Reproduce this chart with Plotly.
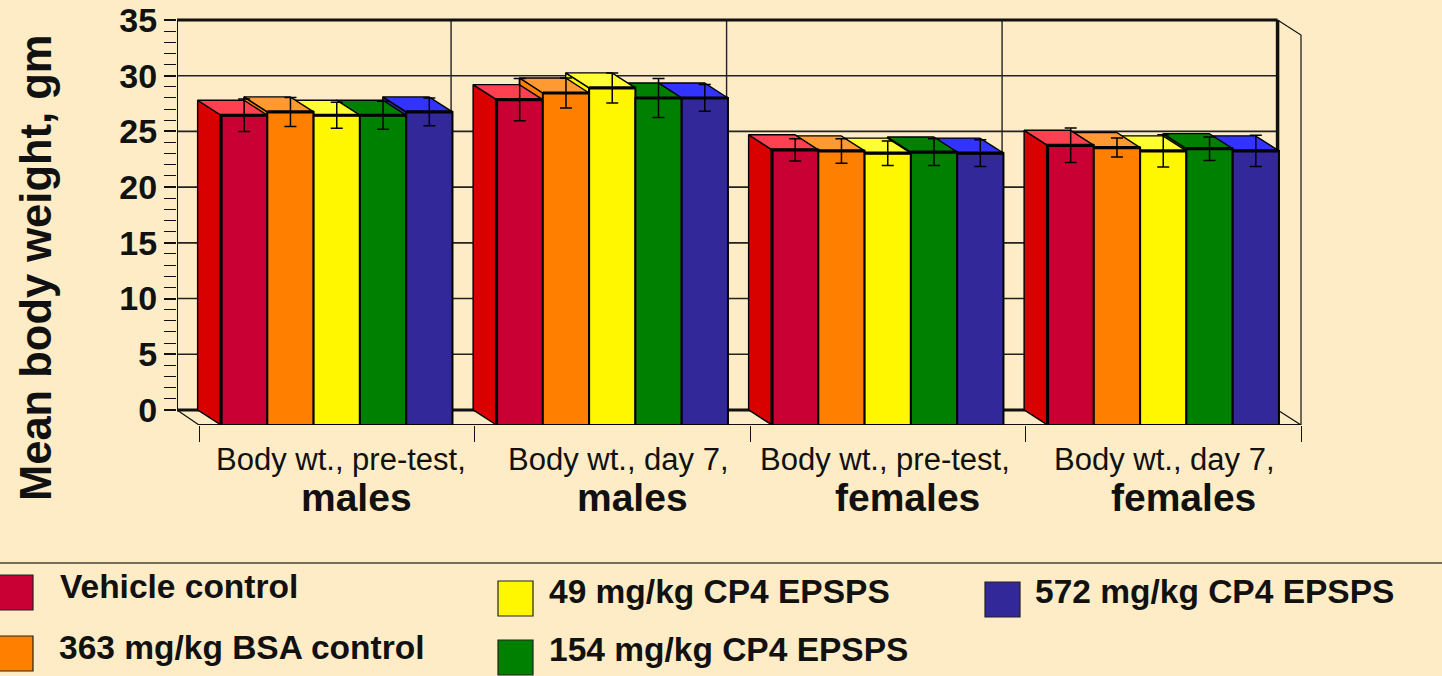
import plotly.graph_objects as go

W, H = 1442, 676

group_line1 = ["Body wt., pre-test,", "Body wt., day 7,", "Body wt., pre-test,", "Body wt., day 7,"]
group_line2 = ["males", "males", "females", "females"]
group_pos = [0.5, 1.5, 2.5, 3.5]

series_names = ["Vehicle control", "363 mg/kg BSA control", "49 mg/kg CP4 EPSPS",
                "154 mg/kg CP4 EPSPS", "572 mg/kg CP4 EPSPS"]

vehicle = [27.8, 29.2, 24.7, 25.1]
bsa = [28.1, 29.8, 24.6, 24.9]
cp4_49 = [27.8, 30.25, 24.4, 24.6]
cp4_154 = [27.8, 29.35, 24.5, 24.8]
cp4_572 = [28.1, 29.35, 24.4, 24.6]

vehicle_err = [1.45, 1.9, 1.0, 1.55]
bsa_err = [1.3, 1.35, 1.1, 0.85]
cp4_49_err = [1.17, 1.35, 1.1, 1.45]
cp4_154_err = [1.25, 1.75, 1.2, 1.05]
cp4_572_err = [1.25, 1.2, 1.2, 1.4]

y_ticks = [0, 5, 10, 15, 20, 25, 30, 35]

front_colors = ["#c80033", "#ff8000", "#fff700", "#008000", "#33289a"]
top_colors = ["#ff4050", "#ff9933", "#ffff33", "#008000", "#3333ff"]
side_colors = ["#d90000", "#ff8000", "#fff700", "#008000", "#33289a"]

values = [vehicle, bsa, cp4_49, cp4_154, cp4_572]
errors = [vehicle_err, bsa_err, cp4_49_err, cp4_154_err, cp4_572_err]

BG = "#fdecc5"
INK = "#111111"
DX = 0.085     # depth of the pseudo-3D box, in group units
DY = 1.35      # depth of the pseudo-3D box, in value units
BAR_W = 0.168
N = len(series_names)
X_L, X_R = -22 / 275.5, 1103 / 275.5
WALL_L, WALL_R = X_L, 4 - DX
HEAD = 4 / 11.14   # small headroom above the wall so its top edge is not clipped

fig = go.Figure()


def wall_line(xs, ys, width=1.5, color=INK):
    fig.add_trace(go.Scatter(x=xs, y=ys, mode="lines", line=dict(color=color, width=width),
                             showlegend=False, hoverinfo="skip"))


# back wall, floor and right wall
for t in y_ticks[1:-1]:
    wall_line([WALL_L, WALL_R], [t, t], 1.6, "#222222")
for g in [1, 2, 3]:
    wall_line([g - DX, g - DX], [0, y_ticks[-1]], 1.4, "#222222")
wall_line([WALL_L, WALL_L], [0, y_ticks[-1]], 2)
wall_line([WALL_L, WALL_R], [y_ticks[-1], y_ticks[-1]], 3)
wall_line([WALL_L, WALL_R], [0, 0], 3)
wall_line([WALL_R, WALL_R], [0, y_ticks[-1]], 3.5)
wall_line([WALL_L, 0], [0, -DY], 1.2)
wall_line([WALL_R, 4], [0, -DY], 1.2)
wall_line([0, 4], [-DY, -DY], 2)
wall_line([WALL_R, 4, 4], [y_ticks[-1], y_ticks[-1] - DY, -DY], 1.2)

# side and top faces, painted right to left
for gi, centre in reversed(list(enumerate(group_pos))):
    left = centre - BAR_W * N / 2
    for si in reversed(range(N)):
        v = values[si][gi]
        x0 = left + si * BAR_W
        x1 = x0 + BAR_W
        fig.add_trace(go.Scatter(
            x=[x0 - DX, x0, x0, x0 - DX, x0 - DX], y=[0, -DY, v - DY, v, 0],
            mode="lines", fill="toself", fillcolor=side_colors[si],
            line=dict(color="#000000", width=1.4), showlegend=False, hoverinfo="skip"))
        fig.add_trace(go.Scatter(
            x=[x0, x1, x1 - DX, x0 - DX, x0], y=[v - DY, v - DY, v, v, v - DY],
            mode="lines", fill="toself", fillcolor=top_colors[si],
            line=dict(color="#000000", width=1.4), showlegend=False, hoverinfo="skip"))

# front faces
for si, name in enumerate(series_names):
    fig.add_trace(go.Bar(
        x=group_pos, y=values[si], name=name, yaxis="y2", showlegend=False,
        marker=dict(color=front_colors[si], line=dict(color="#000000", width=2)),
        error_y=dict(type="data", array=errors[si], visible=True, color="#000000", thickness=1.5, width=6),
    ))

# heavier front edges: top of every bar, left side of the first bar in each group
for gi, centre in enumerate(group_pos):
    left = centre - BAR_W * N / 2
    for si in range(N):
        v = values[si][gi]
        x0 = left + si * BAR_W
        xs = [x0, x0 + BAR_W]
        ys = [v, v]
        if si == 0:
            xs = [x0, x0, x0 + BAR_W]
            ys = [0, v, v]
        fig.add_trace(go.Scatter(x=xs, y=ys, yaxis="y2", mode="lines",
                                 line=dict(color="#000000", width=3.2),
                                 showlegend=False, hoverinfo="skip"))


def px(x):
    return x / W


def py(y):
    return 1 - y / H


annotations = []
line1_shift = [4.5, 6, -2.5, 1]
for g, l1, l2, s in zip(group_pos, group_line1, group_line2, line1_shift):
    annotations.append(dict(x=g, xref="x", y=py(459), yref="paper", text=l1, showarrow=False, xshift=s,
                            xanchor="center", yanchor="middle",
                            font=dict(size=31, family="Liberation Sans", color=INK)))
    annotations.append(dict(x=g, xref="x", y=py(497), yref="paper", text="<b>%s</b>" % l2, showarrow=False,
                            xshift=20, xanchor="center", yanchor="middle",
                            font=dict(size=39, family="Liberation Sans", color=INK)))

annotations.append(dict(x=px(36), xref="paper", y=py(268), yref="paper", text="<b>Mean body weight, gm</b>",
                        textangle=-90, showarrow=False, xanchor="center", yanchor="middle",
                        font=dict(size=43.5, family="Liberation Sans", color=INK)))

legend_swatch = [(-5, 575), (-5, 636), (498, 581), (498, 640), (985, 582)]
legend_text = [(58, 586), (57, 647), (547, 591), (547, 649), (1033, 591)]
shapes = [dict(type="line", xref="paper", yref="paper", x0=0, x1=1, y0=py(563), y1=py(563),
               line=dict(color="#444433", width=1.5))]
for si, name in enumerate(series_names):
    sx, sy = legend_swatch[si]
    tx, ty = legend_text[si]
    shapes.append(dict(type="rect", xref="paper", yref="paper", x0=px(sx), x1=px(sx + 38 if sx < 0 else sx + 35),
                       y0=py(sy), y1=py(sy + 35), fillcolor=front_colors[si],
                       line=dict(color="#222222", width=1.2)))
    annotations.append(dict(x=px(tx), xref="paper", y=py(ty), yref="paper", text="<b>%s</b>" % name,
                            showarrow=False, xanchor="left", yanchor="middle",
                            font=dict(size=33.5, family="Liberation Sans", color=INK)))

fig.update_layout(
    width=W, height=H, autosize=False,
    margin=dict(l=0, r=0, t=0, b=0, autoexpand=False),
    paper_bgcolor=BG, plot_bgcolor="rgba(0,0,0,0)",
    barmode="group", bargap=1 - BAR_W * N, bargroupgap=0,
    showlegend=False,
    xaxis=dict(domain=[px(177), px(1302)], range=[X_L, X_R], tickvals=[0, 1, 2, 3, 4], ticks="outside",
               ticklen=16, tickwidth=1.4, tickcolor=INK, showticklabels=False, showline=False,
               showgrid=False, zeroline=False, automargin=False),
    yaxis=dict(domain=[py(425), py(16)], range=[-DY, y_ticks[-1] + HEAD], tickvals=y_ticks, ticks="outside",
               ticklen=12, tickwidth=1.5, tickcolor=INK, showline=False, showgrid=False, zeroline=False,
               automargin=False,
               tickfont=dict(size=34, family="Liberation Sans", weight="bold", color=INK),
               minor=dict(tickvals=[v for v in range(1, 35) if v % 5], ticks="outside", ticklen=12,
                          tickwidth=1.3, tickcolor=INK, showgrid=False)),
    yaxis2=dict(domain=[py(425), py(16)], range=[0, y_ticks[-1] + DY + HEAD], overlaying="y", visible=False,
                automargin=False),
    annotations=annotations, shapes=shapes,
)

fig.write_html("out.html", config={"displayModeBar": False},
               post_script="document.body.style.margin='0';document.body.style.background='%s';"
                           "document.documentElement.style.overflow='hidden';" % BG)
